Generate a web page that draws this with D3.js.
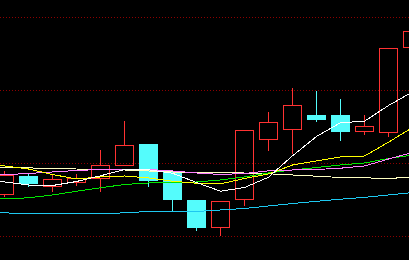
<!DOCTYPE html>
<html>
<head>
<meta charset="utf-8">
<script src="https://cdn.jsdelivr.net/npm/d3@7/dist/d3.min.js"></script>
<style>
  body { margin: 0; background: #000; overflow: hidden; }
</style>
</head>
<body>
<div id="vis"></div>
<script>
const FRAME_HEIGHT = 260;
const FRAME_WIDTH = 409;

// daily bars, index 0 is the day just left of the visible window
const OPEN  = [10.40, 10.42, 10.60, 10.50, 10.54, 10.58, 10.71, 10.92, 10.64, 10.36,
               10.09, 10.37, 10.97, 11.07, 11.21, 11.21, 11.05, 11.04, 11.89];
const HIGH  = [10.49, 10.65, 10.63, 10.61, 10.62, 10.86, 11.15, 10.92, 10.64, 10.36,
               10.35, 11.06, 11.24, 11.48, 11.45, 11.37, 11.21, 11.88, 12.11];
const LOW   = [10.38, 10.40, 10.50, 10.45, 10.51, 10.45, 10.71, 10.50, 10.25, 10.06,
               10.01, 10.31, 10.86, 10.83, 11.15, 10.96, 11.02, 11.00, 11.89];
const CLOSE = [10.46, 10.61, 10.53, 10.57, 10.58, 10.71, 10.91, 10.56, 10.37, 10.09,
               10.35, 11.06, 11.14, 11.31, 11.17, 11.05, 11.10, 11.88, 12.05];

// moving averages
const MA5   = [10.560, 10.545, 10.515, 10.510, 10.550, 10.607, 10.670, 10.667, 10.633, 10.540,
               10.453, 10.490, 10.593, 10.807, 11.000, 11.137, 11.153, 11.310, 11.445];
const MA10  = [10.715, 10.705, 10.675, 10.620, 10.575, 10.595, 10.605, 10.585, 10.553, 10.533,
               10.527, 10.580, 10.625, 10.715, 10.755, 10.795, 10.805, 10.943, 11.090];
const MA20  = [10.610, 10.618, 10.630, 10.645, 10.660, 10.670, 10.670, 10.670, 10.655, 10.635,
               10.620, 10.630, 10.657, 10.665, 10.670, 10.683, 10.705, 10.775, 10.840];
const MA30  = [10.370, 10.377, 10.387, 10.415, 10.452, 10.487, 10.520, 10.535, 10.543, 10.545,
               10.565, 10.595, 10.635, 10.665, 10.690, 10.715, 10.735, 10.780, 10.815];
const MA60  = [10.690, 10.687, 10.687, 10.677, 10.675, 10.670, 10.665, 10.655, 10.645, 10.640,
               10.637, 10.635, 10.627, 10.615, 10.603, 10.590, 10.587, 10.580, 10.595];
const MA120 = [10.240, 10.237, 10.227, 10.227, 10.227, 10.227, 10.237, 10.250, 10.250, 10.250,
               10.265, 10.280, 10.305, 10.330, 10.352, 10.373, 10.392, 10.415, 10.440];

const GRID_TICKS = [10.00, 10.73, 11.46, 12.19];

const UP_COLOR = "#ff3232";
const DOWN_COLOR = "#54fcfc";

const FRAME = d3.select("#vis")
  .append("svg")
    .attr("width", FRAME_WIDTH)
    .attr("height", FRAME_HEIGHT)
    .style("display", "block")
    .style("background", "#000");

const X_SCALE = d3.scaleLinear()
  .domain([0, OPEN.length - 1])
  .range([-20, 412]);

const Y_SCALE = d3.scaleLinear()
  .domain([10.00, 12.19])
  .range([236.5, 17.5]);

const HALF_BODY = 9;

// dotted grid
FRAME.append("g")
  .selectAll("line")
  .data(GRID_TICKS)
  .enter()
  .append("line")
    .attr("x1", 0)
    .attr("x2", FRAME_WIDTH)
    .attr("y1", d => Y_SCALE(d))
    .attr("y2", d => Y_SCALE(d))
    .attr("stroke", "#8c0000")
    .attr("stroke-width", 1)
    .attr("stroke-dasharray", "1,2")
    .attr("shape-rendering", "crispEdges");

const bars = OPEN.map((o, i) => ({i: i, open: o, high: HIGH[i], low: LOW[i], close: CLOSE[i]}));

const candles = FRAME.append("g")
  .attr("shape-rendering", "crispEdges")
  .selectAll("g")
  .data(bars)
  .enter()
  .append("g");

// upper and lower shadows, kept out of the hollow bodies
candles.append("rect")
  .attr("x", d => X_SCALE(d.i))
  .attr("width", 1)
  .attr("y", d => Y_SCALE(d.high) - 0.5)
  .attr("height", d => Math.max(0, Y_SCALE(Math.max(d.open, d.close)) - Y_SCALE(d.high)))
  .attr("fill", d => d.close >= d.open ? UP_COLOR : DOWN_COLOR);

candles.append("rect")
  .attr("x", d => X_SCALE(d.i))
  .attr("width", 1)
  .attr("y", d => Y_SCALE(Math.min(d.open, d.close)) + 0.5)
  .attr("height", d => Math.max(0, Y_SCALE(d.low) - Y_SCALE(Math.min(d.open, d.close))))
  .attr("fill", d => d.close >= d.open ? UP_COLOR : DOWN_COLOR);

// rising days: hollow red body
candles.filter(d => d.close >= d.open)
  .append("rect")
    .attr("x", d => X_SCALE(d.i) - HALF_BODY + 0.5)
    .attr("width", HALF_BODY * 2)
    .attr("y", d => Y_SCALE(d.close))
    .attr("height", d => Y_SCALE(d.open) - Y_SCALE(d.close))
    .attr("fill", "none")
    .attr("stroke", UP_COLOR)
    .attr("stroke-width", 1);

// falling days: solid cyan body
candles.filter(d => d.close < d.open)
  .append("rect")
    .attr("x", d => X_SCALE(d.i) - HALF_BODY)
    .attr("width", HALF_BODY * 2 + 1)
    .attr("y", d => Y_SCALE(d.open) - 0.5)
    .attr("height", d => Y_SCALE(d.close) - Y_SCALE(d.open) + 1)
    .attr("fill", DOWN_COLOR);

// moving average lines on top
const MA_LINES = [
  {values: MA120, color: "#1ec8f0"},
  {values: MA60, color: "#ffffc0"},
  {values: MA30, color: "#00e600"},
  {values: MA20, color: "#ff80ff"},
  {values: MA10, color: "#ffff00"},
  {values: MA5, color: "#ffffff"}
];

const line = d3.line()
  .x((d, i) => X_SCALE(i) + 0.5)
  .y(d => Y_SCALE(d));

FRAME.append("g")
  .selectAll("path")
  .data(MA_LINES)
  .enter()
  .append("path")
    .attr("d", d => line(d.values))
    .attr("fill", "none")
    .attr("stroke", d => d.color)
    .attr("stroke-width", 1)
    .attr("shape-rendering", "crispEdges");
</script>
</body>
</html>
